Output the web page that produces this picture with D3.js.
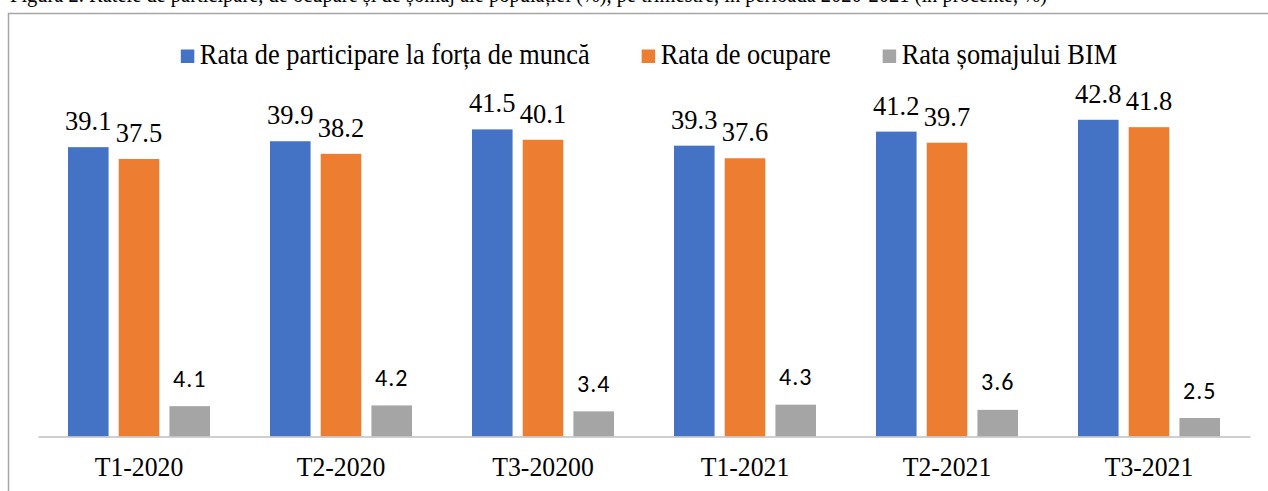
<!DOCTYPE html>
<html>
<head>
<meta charset="utf-8">
<script src="https://cdn.jsdelivr.net/npm/d3@7"></script>
<style>
  body { margin: 0; background: #fff; }
  svg { display: block; }
  .serif { font-family: "Liberation Serif", "Times New Roman", Times, serif; }
  .sans { font-family: Carlito, Calibri, "Liberation Sans", sans-serif; }
</style>
</head>
<body>
<div id="chart"></div>
<script>
// Chart data
const categories = ["T1-2020", "T2-2020", "T3-20200", "T1-2021", "T2-2021", "T3-2021"];
const seriesNames = ["Rata de participare la forța de muncă", "Rata de ocupare", "Rata șomajului BIM"];
const participare = [39.1, 39.9, 41.5, 39.3, 41.2, 42.8];
const ocupare = [37.5, 38.2, 40.1, 37.6, 39.7, 41.8];
const somaj = [4.1, 4.2, 3.4, 4.3, 3.6, 2.5];
const caption = "Figura 2. Ratele de participare, de ocupare și de șomaj ale populației (%), pe trimestre, în perioada 2020-2021 (în procente, %)";

const colors = ["#4472C4", "#ED7D31", "#A5A5A5"];
const values = [participare, ocupare, somaj];

const W = 1268, H = 491;
const svg = d3.select("#chart").append("svg")
  .attr("width", W)
  .attr("height", H);

// caption line, cut off by the top edge like in the source page
svg.append("text")
  .attr("class", "serif")
  .attr("x", 10)
  .attr("y", 2)
  .attr("textLength", 1037)
  .attr("lengthAdjust", "spacingAndGlyphs")
  .attr("font-size", 24)
  .text(caption);

// chart frame (top and left edges visible)
svg.append("path")
  .attr("d", `M8.5,${H} V13.5 H${W}`)
  .attr("fill", "none")
  .attr("stroke", "#a6a6a6")
  .attr("stroke-width", 1.5);

// scales
const x0 = d3.scaleBand()
  .domain(categories)
  .range([38, 1250]);

const x1 = d3.scaleBand()
  .domain(d3.range(seriesNames.length))
  .range([30, x0.bandwidth() - 30])
  .paddingInner(0.2);

const y = d3.scaleLinear()
  .domain([0, 45])
  .range([436.5, 103.5]);

// bars
const groups = svg.selectAll(".group")
  .data(categories)
  .enter()
  .append("g")
  .attr("class", "group")
  .attr("transform", d => `translate(${x0(d)},0)`);

groups.selectAll("rect")
  .data((d, i) => values.map((v, s) => ({ s, v: v[i] })))
  .enter()
  .append("rect")
  .attr("x", d => x1(d.s))
  .attr("y", d => y(d.v))
  .attr("width", x1.bandwidth())
  .attr("height", d => y(0) - y(d.v))
  .attr("fill", d => colors[d.s]);

// value labels
groups.selectAll(".label")
  .data((d, i) => values.map((v, s) => ({ s, v: v[i] })))
  .enter()
  .append("text")
  .attr("class", d => d.s === 2 ? "label sans" : "label serif")
  .attr("x", d => x1(d.s) + x1.bandwidth() / 2)
  .attr("y", d => y(d.v) - (d.s === 2 ? 19.5 : 17))
  .attr("text-anchor", "middle")
  .attr("font-size", d => d.s === 2 ? 24 : 26.5)
  .attr("letter-spacing", d => d.s === 2 ? 1 : 0)
  .attr("fill", "#000")
  .text(d => d.v.toFixed(1));

// x axis
const xAxis = svg.append("g")
  .attr("transform", `translate(0,${y(0)})`)
  .call(d3.axisBottom(x0).tickSize(0).tickSizeOuter(0))
  .attr("font-family", null)
  .attr("font-size", null);

xAxis.select(".domain")
  .attr("stroke", "#bfbfbf")
  .attr("stroke-width", 1.5);

xAxis.selectAll(".tick text")
  .attr("class", "serif")
  .attr("y", 40)
  .attr("dy", 0)
  .attr("transform", "scale(0.92,1)")
  .attr("font-size", 28)
  .attr("fill", "#000");

// legend
const legend = svg.append("g");
const items = legend.selectAll("g")
  .data(seriesNames)
  .enter()
  .append("g");

items.append("rect")
  .attr("y", 49.5)
  .attr("width", 13.5)
  .attr("height", 13.5)
  .attr("fill", (d, i) => colors[i]);

items.append("text")
  .attr("class", "serif")
  .attr("transform", "translate(19,63.5) scale(0.88,1)")
  .attr("font-size", 30)
  .attr("fill", "#000")
  .text(d => d);

// place legend items side by side
let pos = 0;
const offsets = [];
items.each(function () {
  offsets.push(pos);
  const w = 19 + this.querySelector("text").getComputedTextLength() * 0.88;
  pos += w + 52;
});
const total = pos - 52;
const start = 649 - total / 2;
items.attr("transform", (d, i) => `translate(${start + offsets[i]},0)`);
</script>
</body>
</html>
